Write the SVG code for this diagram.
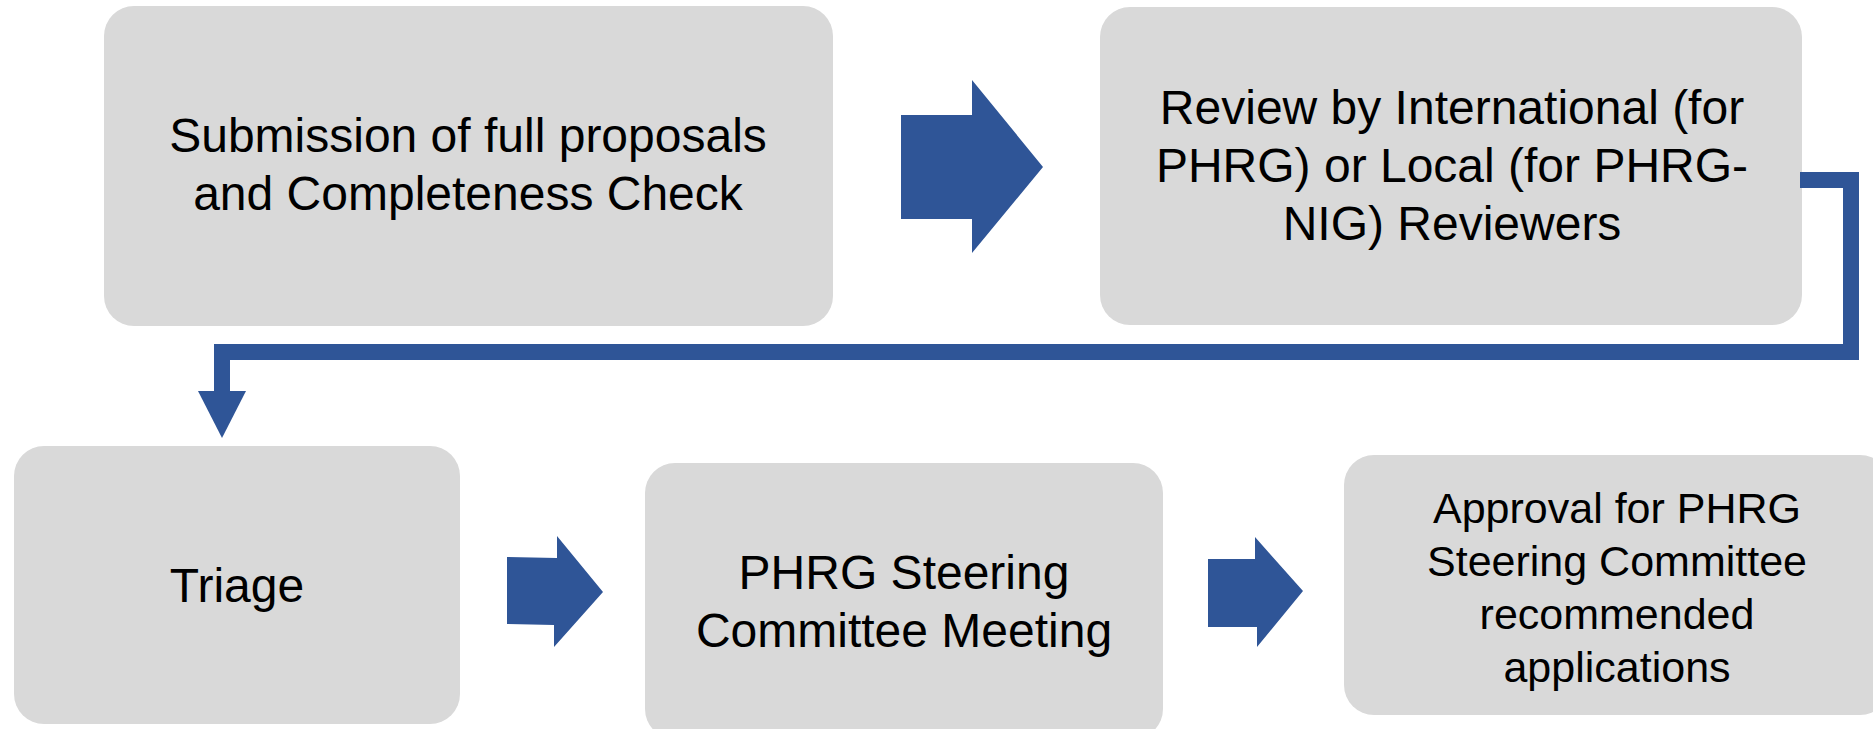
<svg xmlns="http://www.w3.org/2000/svg" width="1873" height="729" viewBox="0 0 1873 729">
<style>
.box{fill:#D9D9D9;}
.t{font-family:"Liberation Sans",Arial,sans-serif;font-size:48px;fill:#000;text-anchor:middle;}
.ts{font-size:43px;}
.arrow{fill:#2F5597;}
.line{fill:none;stroke:#2F5597;stroke-width:16;stroke-linejoin:miter;}
</style>
<rect x="0" y="0" width="1873" height="729" fill="#FFFFFF"/>
<g id="node-submission">
<rect class="box" x="104" y="6" width="729" height="320" rx="30" ry="30"/>
<text class="t" x="468" y="152">Submission of full proposals</text>
<text class="t" x="468" y="210">and Completeness Check</text>
</g>
<g id="node-review">
<rect class="box" x="1100" y="7" width="702" height="318" rx="30" ry="30"/>
<text class="t" x="1452" y="124">Review by International (for</text>
<text class="t" x="1452" y="182">PHRG) or Local (for PHRG-</text>
<text class="t" x="1452" y="240">NIG) Reviewers</text>
</g>
<g id="node-triage">
<rect class="box" x="14" y="446" width="446" height="278" rx="30" ry="30"/>
<text class="t" x="237" y="602">Triage</text>
</g>
<g id="node-steering">
<rect class="box" x="645" y="463" width="518" height="276" rx="30" ry="30"/>
<text class="t" x="904" y="589">PHRG Steering</text>
<text class="t" x="904" y="647">Committee Meeting</text>
</g>
<g id="node-approval">
<rect class="box" x="1344" y="455" width="546" height="260" rx="30" ry="30"/>
<text class="t ts" x="1617" y="523">Approval for PHRG</text>
<text class="t ts" x="1617" y="576">Steering Committee</text>
<text class="t ts" x="1617" y="629">recommended</text>
<text class="t ts" x="1617" y="682">applications</text>
</g>
<g id="connectors">
<polygon class="arrow" points="901,115 972,115 972,80 1043,167 972,253 972,219 901,219"/>
<polyline class="line" points="1800,180 1851,180 1851,352 222,352 222,392"/>
<polygon class="arrow" points="198,391 246,391 222,438"/>
<polygon class="arrow" points="507,557 557,558 557,536 603,592 554,647 554,625 507,624"/>
<polygon class="arrow" points="1208,559 1255,559 1255,537 1303,591 1257,647 1257,627 1208,627"/>
</g>
</svg>
